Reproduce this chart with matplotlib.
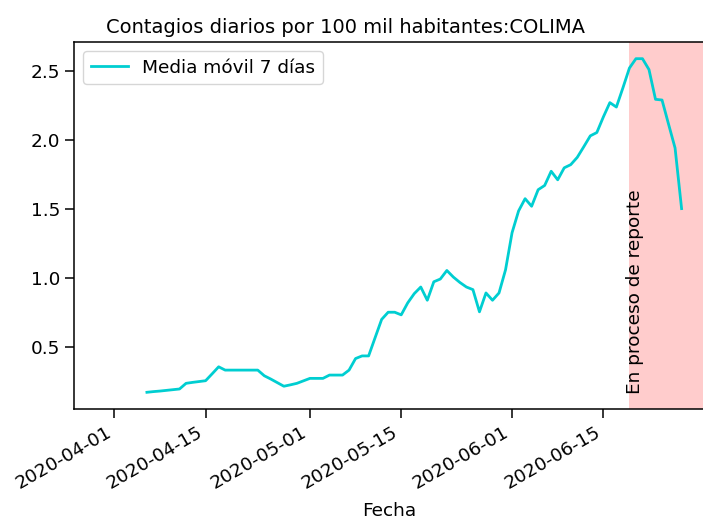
"""Daily COVID-19 cases per 100k inhabitants, 7-day rolling mean."""

import matplotlib

matplotlib.use("Agg")
import matplotlib.dates as mdates
import matplotlib.pyplot as plt
import pandas as pd

# 7-day rolling mean, one value per day starting 2020-04-06
start_date = "2020-04-06"
rolling_mean = [
    0.171, 0.176, 0.180, 0.185, 0.190, 0.195, 0.236, 0.243, 0.249, 0.255,
    0.305, 0.356, 0.332, 0.332, 0.332, 0.332, 0.332, 0.332, 0.291, 0.267,
    0.241, 0.215, 0.225, 0.236, 0.254, 0.272, 0.272, 0.272, 0.296, 0.296,
    0.296, 0.332, 0.416, 0.435, 0.435, 0.568, 0.700, 0.752, 0.752, 0.733,
    0.820, 0.887, 0.935, 0.839, 0.973, 0.993, 1.055, 1.007, 0.968, 0.935,
    0.916, 0.755, 0.892, 0.839, 0.892, 1.060, 1.329, 1.487, 1.576, 1.521,
    1.641, 1.672, 1.775, 1.713, 1.800, 1.823, 1.876, 1.953, 2.032, 2.056,
    2.169, 2.273, 2.241, 2.380, 2.524, 2.592, 2.592, 2.513, 2.297, 2.292,
    2.117, 1.944, 1.504,
]
reporting_start = "2020-06-19"
state = "COLIMA"

dates = pd.date_range(start_date, periods=len(rolling_mean), freq="D")
x_min = pd.Timestamp("2020-04-01") - pd.Timedelta(days=6.18)
x_max = pd.Timestamp("2020-04-01") + pd.Timedelta(days=90.5)

plt.rcParams["font.family"] = "DejaVu Sans"
plt.rcParams["font.size"] = 13.3

fig = plt.figure(figsize=(7.03, 5.25), dpi=100)
ax = fig.add_axes([0.1053, 0.221, 0.8967, 0.699])

ax.plot(dates, rolling_mean, color="darkturquoise", linewidth=2.0,
        label="Media móvil 7 días")
ax.axvspan(pd.Timestamp(reporting_start), x_max, color="red", alpha=0.2,
           linewidth=0)
ax.text(pd.Timestamp(reporting_start) + pd.Timedelta(days=0.9), 0.16,
        "En proceso de reporte", rotation=90, ha="center", va="bottom",
        fontsize=13.3)

ax.set_xlim(x_min, x_max)
ax.xaxis.set_major_locator(mdates.DayLocator(bymonthday=[1, 15]))
ax.xaxis.set_major_formatter(mdates.DateFormatter("%Y-%m-%d"))
plt.setp(ax.get_xticklabels(), rotation=30, ha="right")
ax.set_yticks([0.5, 1.0, 1.5, 2.0, 2.5])
ax.tick_params(length=6.5, width=1.1)
for spine in ax.spines.values():
    spine.set_linewidth(1.1)

ax.set_xlabel("Fecha", labelpad=7)
ax.legend(loc="upper left")
fig.text(0.491, 1 - 33 / 525, f"Contagios diarios por 100 mil habitantes:{state}",
         ha="center", va="baseline", fontsize=14)

fig.savefig("out.png", dpi=100)
plt.close(fig)
